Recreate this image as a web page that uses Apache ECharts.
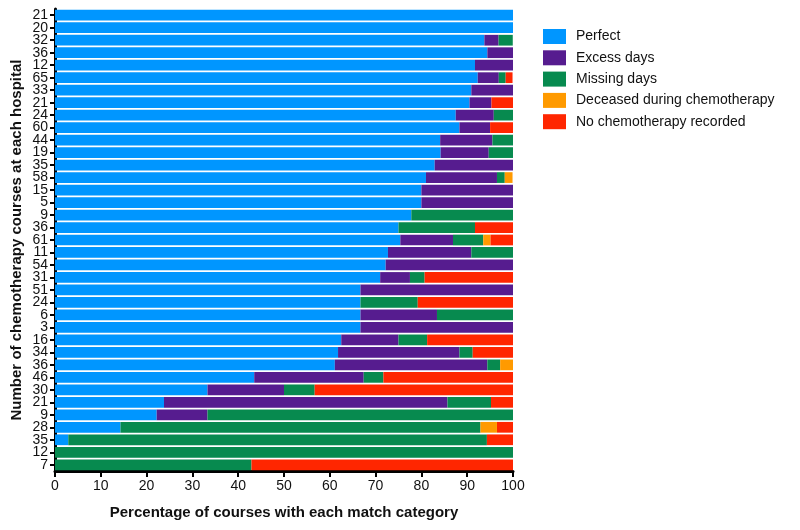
<!DOCTYPE html>
<html>
<head>
<meta charset="utf-8">
<script src="https://cdn.jsdelivr.net/npm/echarts@6/dist/echarts.min.js"></script>
<style>html,body{margin:0;padding:0;background:#fff}#c{width:800px;height:530px}</style>
</head>
<body>
<div id="c"></div>
<script>
// Number of chemotherapy courses at each hospital (top to bottom)
const courses = ['21','20','32','36','12','65','33','21','24','60','44','19','35','58','15','5','9','36','61','11','54','31','51','24','6','3','16','34','36','46','30','21','9','28','35','12','7'];
const perfect   = [100,100,93.75,94.4,91.7,92.3,90.9,90.5,87.5,88.3,84.1,84.2,82.9,81.0,80,80,77.8,75,75.4,72.7,72.2,71.0,66.7,66.7,66.7,66.7,62.5,61.8,61.1,43.5,33.3,23.8,22.2,14.3,2.9,0,0];
const excess    = [0,0,3.1,5.6,8.3,4.6,9.1,4.8,8.3,6.7,11.4,10.5,17.1,15.5,20,20,0,0,11.5,18.2,27.8,6.5,33.3,0,16.7,33.3,12.5,26.5,33.3,23.9,16.7,61.9,11.1,0,0,0,0];
const missing   = [0,0,3.1,0,0,1.5,0,0,4.2,0,4.5,5.3,0,1.7,0,0,22.2,16.7,6.6,9.1,0,3.2,0,12.5,16.7,0,6.25,2.9,2.8,4.3,6.7,9.5,66.7,78.6,91.4,100,42.9];
const deceased  = [0,0,0,0,0,0,0,0,0,0,0,0,0,1.7,0,0,0,0,1.6,0,0,0,0,0,0,0,0,0,2.8,0,0,0,0,3.6,0,0,0];
const noChemo   = [0,0,0,0,0,1.5,0,4.8,0,5,0,0,0,0,0,0,0,8.3,4.9,0,0,19.4,0,20.8,0,0,18.75,8.8,0,28.3,43.3,4.8,0,3.6,5.7,0,57.1];
const seriesNames = ['Perfect','Excess days','Missing days','Deceased during chemotherapy','No chemotherapy recorded'];
const seriesColors = ['#0096FF','#561C8F','#078A4F','#FF9A00','#FF2600'];
const xTicks = {min:0, max:100, interval:10};

const idx = courses.map((_, i) => String(i));
const values = [perfect, excess, missing, deceased, noChemo];
const font = 'Liberation Sans, Arial, sans-serif';

const chart = echarts.init(document.getElementById('c'), null, {renderer:'canvas'});
chart.setOption({
  animation: false,
  backgroundColor: '#fff',
  textStyle: {fontFamily: font},
  grid: {left: 55, right: 287, top: 9, bottom: 59, containLabel: false, outerBoundsMode: 'none'},
  legend: {
    orient: 'vertical', left: 543, top: 29, padding: 0,
    itemWidth: 23, itemHeight: 15, itemGap: 6.3,
    icon: 'rect',
    textStyle: {fontFamily: font, fontSize: 14, color: '#111', padding: [0,0,0,5]},
    data: seriesNames
  },
  xAxis: {
    type: 'value', min: xTicks.min, max: xTicks.max, interval: xTicks.interval,
    name: 'Percentage of courses with each match category',
    nameLocation: 'middle', nameGap: 34,
    nameTextStyle: {fontFamily: font, fontSize: 15, fontWeight: 'bold', color: '#111'},
    axisLine: {show: true, lineStyle: {color: '#000', width: 3}},
    axisTick: {show: true, length: 6, lineStyle: {color: '#000', width: 2}},
    axisLabel: {fontFamily: font, fontSize: 14, color: '#111', margin: 8},
    splitLine: {show: false}
  },
  yAxis: {
    type: 'category', data: idx, inverse: true,
    name: 'Number of chemotherapy courses at each hospital',
    nameLocation: 'middle', nameGap: 31, nameRotate: 90, nameMoveOverlap: false,
    nameTextStyle: {fontFamily: font, fontSize: 15, fontWeight: 'bold', color: '#111'},
    axisLine: {show: true, lineStyle: {color: '#000', width: 3}},
    axisTick: {show: true, alignWithLabel: true, length: 5, lineStyle: {color: '#000', width: 2}},
    axisLabel: {fontFamily: font, fontSize: 14, color: '#111', margin: 7, interval: 0,
      formatter: (v) => courses[+v]},
    splitLine: {show: false}
  },
  series: seriesNames.map((n, k) => ({
    name: n, type: 'bar', stack: 'all',
    barCategoryGap: '14%',
    itemStyle: {color: seriesColors[k]},
    data: values[k]
  }))
});
</script>
</body>
</html>
